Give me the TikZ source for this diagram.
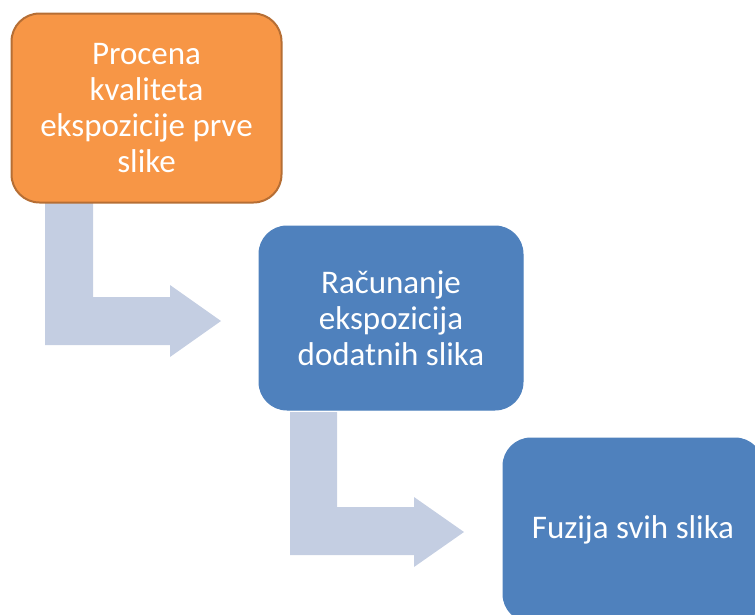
\documentclass[tikz,border=0pt]{standalone}
\usepackage{fontspec}
\setmainfont{Carlito}
\begin{document}
\begin{tikzpicture}[x=1pt,y=-1pt,
  stepbox/.style={rounded corners=28pt, inner sep=0pt, align=center,
    text=white, font=\fontsize{33}{36}\selectfont},
  firstbox/.style={stepbox, fill=boxorange, draw=boxorangeedge, line width=2pt},
  bluebox/.style={stepbox, fill=boxblue, draw=boxblue, line width=1pt},
  bentarrow/.style={fill=arrowgray, draw=none}]
\definecolor{boxorange}{RGB}{247,150,70}
\definecolor{boxorangeedge}{RGB}{182,110,52}
\definecolor{boxblue}{RGB}{79,129,189}
\definecolor{arrowgray}{RGB}{196,206,226}
\useasboundingbox (0,0) rectangle (755,614);
\clip (0,0) rectangle (755,614);

% bent block arrows between the steps
\fill[bentarrow] (45,203) -- (93,203) -- (93,297) -- (170,297) -- (170,285)
  -- (221,321) -- (170,357) -- (170,345) -- (45,345) -- cycle;
\fill[bentarrow] (290,412) -- (337,412) -- (337,507) -- (414,507) -- (414,497)
  -- (464,532) -- (414,567) -- (414,555) -- (290,555) -- cycle;

% process steps
\node[firstbox, minimum width=270pt, minimum height=189pt] (s1) at (146.5,108)
  {Procena\\kvaliteta\\ekspozicije prve\\slike};
\node[bluebox, minimum width=264pt, minimum height=184pt] (s2) at (391,318)
  {Računanje\\ekspozicija\\dodatnih slika};
\node[bluebox, minimum width=260pt, minimum height=184pt] (s3) at (633,530)
  {Fuzija svih slika};
\end{tikzpicture}
\end{document}
